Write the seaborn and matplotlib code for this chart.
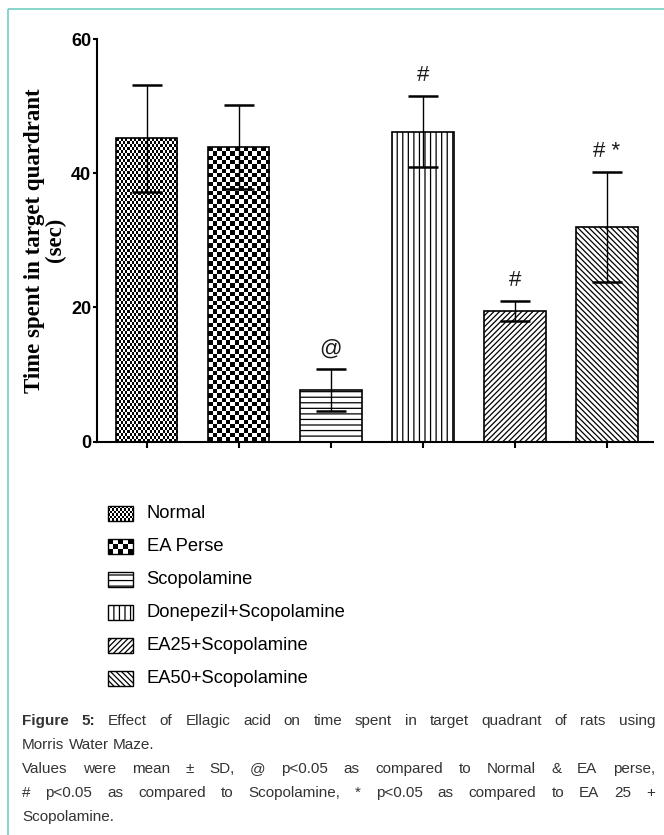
import numpy as np
import pandas as pd
import matplotlib
matplotlib.use("Agg")
import matplotlib.pyplot as plt
import seaborn as sns
from matplotlib.patches import Rectangle

# ---------------- data ----------------
groups = ["Normal", "EA Perse", "Scopolamine", "Donepezil+Scopolamine",
          "EA25+Scopolamine", "EA50+Scopolamine"]
means = [45.2, 43.9, 7.7, 46.2, 19.5, 32.0]
sds = [8.0, 6.2, 3.1, 5.3, 1.5, 8.2]
marks = ["", "", "@", "#", "#", "# *"]
yticks = [0, 20, 40, 60]
ylabel = "Time spent in target quardrant\n(sec)"
caption_lines = [
    "Figure 5: Effect of Ellagic acid on time spent in target quadrant of rats using",
    "Morris Water Maze.",
    "Values were mean \u00b1 SD, @ p<0.05 as compared to Normal & EA perse,",
    "# p<0.05 as compared to Scopolamine, * p<0.05 as compared to EA 25 +",
    "Scopolamine.",
]

# ---------------- styles ----------------
fills = ["checkA", "checkB", "---", "|||", "//////", "\\\\\\\\\\\\"]
check_cells = {"checkA": (2.2, 3.0), "checkB": (4.4, 4.4)}
legend_cells = {"checkA": (2.0, 2.5), "checkB": (5.0, 5.0)}
TEAL = "#72CEC3"
CAP_COLOR = "#333333"

W, H = 664, 835
sns.set_theme(style="ticks", rc={"hatch.linewidth": 0.9, "hatch.color": "black"})
plt.rcParams["font.family"] = ["Liberation Sans", "DejaVu Sans"]

fig = plt.figure(figsize=(W / 100, H / 100), dpi=100)
fig.patch.set_facecolor("white")

ax_l, ax_r, ax_b, ax_t = 96.7, 653.0, 441.7, 39.0
ax = fig.add_axes([ax_l / W, 1 - ax_b / H, (ax_r - ax_l) / W, (ax_b - ax_t) / H])

df = pd.DataFrame({"group": groups, "mean": means})
sns.barplot(data=df, x="group", y="mean", order=groups, color="white",
            saturation=1, width=0.67, edgecolor="black", linewidth=1.2,
            errorbar=None, ax=ax)

bars = list(ax.containers[0])
centers = [b.get_x() + b.get_width() / 2 for b in bars]

XL = (-0.543, 5.503)
YL = (0, 60)
ax.set_xlim(*XL)
ax.set_ylim(*YL)


def checker_fill(axis, x0, x1, y0, y1, px_w, px_h, cw, ch, zorder, clip=None):
    nx = max(int(round(px_w)), 1)
    ny = max(int(round(px_h)), 1)
    jj, ii = np.meshgrid(np.arange(nx), np.arange(ny))
    arr = (np.floor(jj / cw) + np.floor(ii / ch)) % 2
    im = axis.imshow(arr, extent=(x0, x1, y0, y1), origin="lower", cmap="gray",
                     vmin=0, vmax=1, interpolation="nearest", aspect="auto",
                     zorder=zorder)
    if clip is not None:
        im.set_clip_path(clip)
    return im


for b, f in zip(bars, fills):
    b.set_edgecolor("black")
    if f in check_cells:
        b.set_facecolor("none")
        x0, y0 = b.get_x(), b.get_y()
        x1, y1 = x0 + b.get_width(), y0 + b.get_height()
        p0 = ax.transData.transform((x0, y0))
        p1 = ax.transData.transform((x1, y1))
        cw, ch = check_cells[f]
        checker_fill(ax, x0, x1, y0, y1, p1[0] - p0[0], p1[1] - p0[1], cw, ch,
                     b.get_zorder() - 0.1, clip=b)
    else:
        b.set_facecolor("white")
        b.set_hatch(f)

ax.errorbar(centers, means, yerr=sds, fmt="none", ecolor="black",
            elinewidth=1.0, capsize=11, capthick=1.8, zorder=5)

for cx, m, s, t in zip(centers, means, sds, marks):
    if t:
        ax.text(cx, m + s + 3.0, t, ha="center", va="center", fontsize=16,
                color="#1a1a1a", family=["Liberation Sans", "DejaVu Sans"])

ax.set_xlim(*XL)
ax.set_ylim(*YL)
ax.set_yticks(yticks)
ax.set_xticks(centers)
ax.set_xticklabels([])
ax.set_xlabel("")
for lab in ax.get_yticklabels():
    lab.set_fontweight("bold")
    lab.set_fontsize(13)
sns.despine(ax=ax)
for sp in ("left", "bottom"):
    ax.spines[sp].set_linewidth(1.5)
    ax.spines[sp].set_color("black")
ax.tick_params(axis="y", direction="out", length=3, width=1.5, pad=1, colors="black")
ax.tick_params(axis="x", direction="out", length=4, width=1.5, colors="black")
ax.set_ylabel(ylabel, fontsize=16.5, fontweight="bold", linespacing=1.0,
              family=["Liberation Serif", "DejaVu Serif"], color="black")
ax.yaxis.set_label_coords((66 - ax_l) / (ax_r - ax_l), 0.5)
ax.set_facecolor("none")

# ---------------- overlay (frame, legend, caption) ----------------
ov = fig.add_axes([0, 0, 1, 1], zorder=-1)
ov.set_xlim(0, W)
ov.set_ylim(H, 0)
ov.axis("off")
ov.patch.set_visible(False)

ov.plot([8, W], [9, 9], color=TEAL, lw=1.2, solid_capstyle="butt")
ov.plot([8, 8], [9, H], color=TEAL, lw=1.2, solid_capstyle="butt")

leg_x0, leg_w, leg_h = 108, 25, 15
row0, row_gap = 513.3, 33.0
for i, (g, f) in enumerate(zip(groups, fills)):
    yc = row0 + i * row_gap
    if f in legend_cells:
        cw, ch = legend_cells[f]
        checker_fill(ov, leg_x0, leg_x0 + leg_w, yc + leg_h / 2, yc - leg_h / 2,
                     leg_w, leg_h, cw, ch, 1)
        ov.add_patch(Rectangle((leg_x0, yc - leg_h / 2), leg_w, leg_h,
                               facecolor="none", edgecolor="black", lw=1.0, zorder=2))
    else:
        ov.add_patch(Rectangle((leg_x0, yc - leg_h / 2), leg_w, leg_h,
                               facecolor="white", edgecolor="black", lw=1.0,
                               hatch=f, zorder=2))
    ov.text(146.7, yc, g, ha="left", va="center", fontsize=13.2, color="black")

ov.set_xlim(0, W)
ov.set_ylim(H, 0)

renderer = fig.canvas.get_renderer()
cap_x0, cap_x1 = 22, 655
cap_y = [721, 745, 769, 793, 817]
cap_fs = 11
justify = [True, False, True, True, False]
for li, (line, yy, jus) in enumerate(zip(caption_lines, cap_y, justify)):
    words = line.split(" ")
    texts = []
    for wi, w in enumerate(words):
        bold = (li == 0 and wi < 2)
        t = ov.text(cap_x0, yy, w, ha="left", va="center", fontsize=cap_fs,
                    fontweight="bold" if bold else "normal", color=CAP_COLOR)
        texts.append(t)
    widths = [t.get_window_extent(renderer).width for t in texts]
    space = ov.text(0, 0, "a a", fontsize=cap_fs)
    sp_w = space.get_window_extent(renderer).width
    aa = ov.text(0, 0, "aa", fontsize=cap_fs)
    sp_w -= aa.get_window_extent(renderer).width
    space.remove()
    aa.remove()
    if jus and len(words) > 1:
        gap = (cap_x1 - cap_x0 - sum(widths)) / (len(words) - 1)
    else:
        gap = sp_w
    x = cap_x0
    for t, wdt in zip(texts, widths):
        t.set_x(x)
        x += wdt + gap

fig.savefig("out.png", dpi=100, facecolor="white")
